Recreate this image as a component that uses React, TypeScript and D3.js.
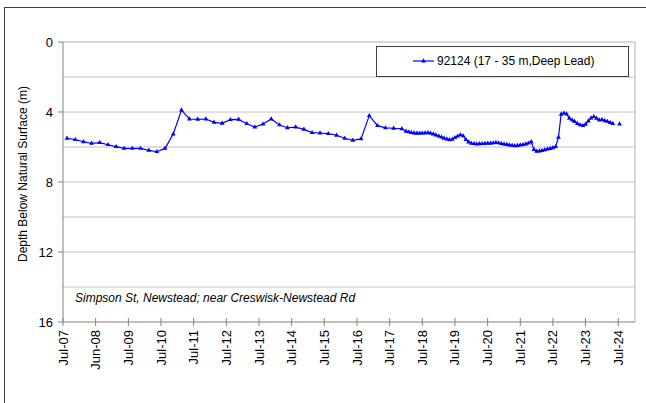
import React from "react";
import * as d3 from "d3";

// ---- data ----
const seriesName = "92124 (17 - 35 m,Deep Lead)";
const siteNote = "Simpson St, Newstead; near Creswisk-Newstead Rd";
const yTitle = "Depth Below Natural Surface (m)";

const dates: string[] = [
  "2007-08-15", "2007-11-15", "2008-02-15", "2008-05-15", "2008-08-15", "2008-11-15",
  "2009-02-15", "2009-05-15", "2009-08-15", "2009-11-15", "2010-02-15", "2010-05-15",
  "2010-08-15", "2010-11-15", "2011-02-15", "2011-05-15", "2011-08-15", "2011-11-15",
  "2012-02-15", "2012-05-15", "2012-08-15", "2012-11-15", "2013-02-15", "2013-05-15",
  "2013-08-15", "2013-11-15", "2014-02-15", "2014-05-15", "2014-08-15", "2014-11-15",
  "2015-02-15", "2015-05-15", "2015-08-15", "2015-11-15", "2016-02-15", "2016-05-15",
  "2016-08-15", "2016-11-15", "2017-02-15", "2017-05-15", "2017-08-15", "2017-11-15",
  "2018-01-01", "2018-02-01", "2018-03-01", "2018-04-01", "2018-05-01", "2018-06-01",
  "2018-07-01", "2018-08-01", "2018-09-01", "2018-10-01", "2018-11-01", "2018-12-01",
  "2019-01-01", "2019-02-01", "2019-03-01", "2019-04-01", "2019-05-01", "2019-06-01",
  "2019-07-01", "2019-08-01", "2019-09-01", "2019-10-01", "2019-11-01", "2019-12-01",
  "2020-01-01", "2020-02-01", "2020-03-01", "2020-04-01", "2020-05-01", "2020-06-01",
  "2020-07-01", "2020-08-01", "2020-09-01", "2020-10-01", "2020-11-01", "2020-12-01",
  "2021-01-01", "2021-02-01", "2021-03-01", "2021-04-01", "2021-05-01", "2021-06-01",
  "2021-07-01", "2021-08-01", "2021-09-01", "2021-10-01", "2021-11-01", "2021-12-01",
  "2022-01-01", "2022-02-01", "2022-03-01", "2022-04-01", "2022-05-01", "2022-06-01",
  "2022-07-01", "2022-08-01", "2022-09-01", "2022-10-01", "2022-11-01", "2022-12-01",
  "2023-01-01", "2023-02-01", "2023-03-01", "2023-04-01", "2023-05-01", "2023-06-01",
  "2023-07-01", "2023-08-01", "2023-09-01", "2023-10-01", "2023-11-01", "2023-12-01",
  "2024-01-01", "2024-02-01", "2024-03-01", "2024-04-01", "2024-05-01", "2024-06-01",
  "2024-07-15",
];

const depths: (number | null)[] = [
  5.5, 5.58, 5.7, 5.79, 5.75, 5.87,
  5.98, 6.08, 6.08, 6.08, 6.19, 6.27,
  6.08, 5.26, 3.89, 4.4, 4.42, 4.4,
  4.59, 4.65, 4.44, 4.42, 4.67, 4.86,
  4.69, 4.4, 4.74, 4.9, 4.86, 4.99,
  5.18, 5.2, 5.24, 5.33, 5.5, 5.62,
  5.54, 4.21, 4.78, 4.91, 4.93, 4.96,
  5.1, 5.14, 5.18, 5.2, 5.22, 5.22,
  5.21, 5.2, 5.18, 5.22, 5.26, 5.32,
  5.38, 5.44, 5.5, 5.55, 5.59, 5.56,
  5.47, 5.38, 5.31, 5.37, 5.58, 5.72,
  5.79, 5.81, 5.83, 5.82, 5.81, 5.8,
  5.79, 5.79, 5.77, 5.75, 5.77, 5.81,
  5.84, 5.86, 5.89, 5.91, 5.93, 5.92,
  5.89, 5.87, 5.83, 5.78, 5.7, 6.15,
  6.25, 6.23, 6.21, 6.16, 6.12, 6.09,
  6.05, 5.98, 5.45, 4.13, 4.07, 4.12,
  4.36, 4.47, 4.55, 4.66, 4.74, 4.78,
  4.7, 4.52, 4.35, 4.27, 4.36, 4.46,
  4.43, 4.5, 4.54, 4.6, 4.66, null,
  4.69,
];

const xTickDates: string[] = [
  "2007-07-01", "2008-06-30", "2009-07-01", "2010-07-01", "2011-07-01", "2012-07-01",
  "2013-07-01", "2014-07-01", "2015-07-01", "2016-07-01", "2017-07-01", "2018-07-01",
  "2019-07-01", "2020-07-01", "2021-07-01", "2022-07-01", "2023-07-01", "2024-07-01",
];
const xTickLabels: string[] = [
  "Jul-07", "Jun-08", "Jul-09", "Jul-10", "Jul-11", "Jul-12", "Jul-13", "Jul-14", "Jul-15",
  "Jul-16", "Jul-17", "Jul-18", "Jul-19", "Jul-20", "Jul-21", "Jul-22", "Jul-23", "Jul-24",
];
const yMajorTicks: number[] = [0, 4, 8, 12, 16];
const yGridTicks: number[] = [2, 4, 6, 8, 10, 12, 14];
const xDomain: string[] = ["2007-07-01", "2025-01-04"];
const yDomain: number[] = [0, 16];

const W = 646;
const H = 403;
const left = 63;
const right = 635;
const top = 42;
const bottom = 322;
const FONT = "Arial, 'Liberation Sans', sans-serif";
const BLUE = "#0000ff";

export default function App() {
  const parse = d3.utcParse("%Y-%m-%d");
  const x = d3
    .scaleUtc()
    .domain(xDomain.map((s) => parse(s) as Date))
    .range([left, right]);
  const y = d3.scaleLinear().domain(yDomain).range([top, bottom]);

  const pts = dates.map((s, i) => ({ d: parse(s) as Date, v: depths[i] }));
  const line = d3
    .line<{ d: Date; v: number | null }>()
    .defined((p) => p.v != null)
    .x((p) => x(p.d))
    .y((p) => y(p.v as number));
  const tri = d3.symbol(d3.symbolTriangle, 10)() as string;

  return (
    <svg
      width={W}
      height={H}
      style={{ position: "absolute", left: 0, top: 0, background: "#fff" }}
      fontFamily={FONT}
    >
      <rect x={0} y={0} width={W} height={H} fill="#fff" />
      {/* outer chart frame */}
      <rect x={4.5} y={7.5} width={W + 20} height={H + 20} fill="none" stroke="#404040" strokeWidth={1} />

      {/* grid */}
      {yGridTicks.map((t) => (
        <line key={"g" + t} x1={left} x2={right} y1={y(t)} y2={y(t)} stroke="#c0c0c0" strokeWidth={1} />
      ))}
      {/* plot frame */}
      <line x1={left} x2={right} y1={top} y2={top} stroke="#b0b0b0" />
      <line x1={right} x2={right} y1={top} y2={bottom} stroke="#b0b0b0" />

      {/* y axis */}
      <line x1={left} x2={left} y1={top} y2={bottom} stroke="#808080" />
      {yMajorTicks.map((t) => (
        <g key={"y" + t}>
          <line x1={left - 5} x2={left} y1={y(t)} y2={y(t)} stroke="#808080" />
          <text x={53} y={y(t)} dy="0.35em" textAnchor="end" fontSize={13} fill="#000">
            {t}
          </text>
        </g>
      ))}
      <text
        transform={`translate(23,${(top + bottom) / 2 - 8}) rotate(-90)`}
        textAnchor="middle"
        dy="0.35em"
        fontSize={12}
        fill="#000"
      >
        {yTitle}
      </text>

      {/* x axis */}
      <line x1={left} x2={right} y1={bottom} y2={bottom} stroke="#808080" />
      {xTickDates.map((s, i) => {
        const xx = x(parse(s) as Date);
        return (
          <g key={"x" + s}>
            <line x1={xx} x2={xx} y1={bottom - 4} y2={bottom + 4} stroke="#808080" />
            <text
              transform={`translate(${xx},${bottom + 8}) rotate(-90)`}
              textAnchor="end"
              dy="0.35em"
              fontSize={13}
              fill="#000"
            >
              {xTickLabels[i]}
            </text>
          </g>
        );
      })}

      {/* note */}
      <text x={75} y={302} fontSize={12} fontStyle="italic" fill="#000">
        {siteNote}
      </text>

      {/* series */}
      <path d={line(pts) || ""} fill="none" stroke={BLUE} strokeWidth={1.2} />
      {pts
        .filter((p) => p.v != null)
        .map((p, i) => (
          <path key={"m" + i} d={tri} transform={`translate(${x(p.d)},${y(p.v as number)})`} fill={BLUE} />
        ))}

      {/* legend */}
      <rect x={376.5} y={46.5} width={252} height={30} fill="#fff" stroke="#404040" />
      <line x1={413} x2={434} y1={61} y2={61} stroke={BLUE} strokeWidth={1.2} />
      <path d={tri} transform="translate(423.5,61)" fill={BLUE} />
      <text x={437} y={61} dy="0.35em" fontSize={12} fill="#000">
        {seriesName}
      </text>
    </svg>
  );
}
